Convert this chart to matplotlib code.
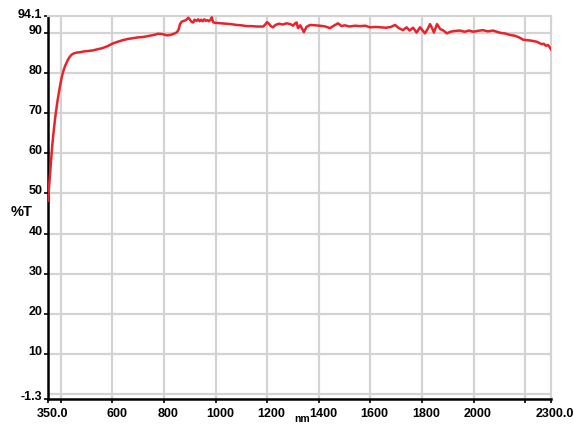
import matplotlib
matplotlib.use('Agg')
import matplotlib.pyplot as plt
from matplotlib.transforms import ScaledTranslation

# wavelength (nm) and transmission (%T)
wavelength = [350, 354, 358, 362, 366, 370, 374, 378, 382, 386, 390, 395, 400, 405,
              410, 416, 422, 428, 435, 442, 450, 461, 475, 490, 505, 520, 540, 560,
              577, 590, 602, 620, 640, 660, 680, 700, 720, 745, 760, 777, 795, 810,
              825, 842, 850, 856, 862, 868, 876, 885, 894, 900, 906, 913, 918, 926,
              932, 938, 944, 950, 956, 962, 968, 974, 980, 985, 990, 997, 1004, 1020,
              1040, 1060, 1080, 1100, 1120, 1140, 1160, 1184, 1192, 1199, 1206, 1214,
              1222, 1232, 1245, 1260, 1275, 1290, 1300, 1308, 1314, 1319, 1328, 1342,
              1352, 1366, 1385, 1405, 1425, 1443, 1458, 1474, 1488, 1500, 1520, 1540,
              1560, 1580, 1598, 1620, 1640, 1660, 1680, 1695, 1710, 1726, 1740, 1752,
              1765, 1779, 1792, 1800, 1811, 1822, 1831, 1838, 1846, 1858, 1870, 1883,
              1896, 1910, 1928, 1947, 1965, 1982, 1998, 2015, 2035, 2055, 2075, 2090,
              2105, 2120, 2141, 2160, 2176, 2192, 2210, 2230, 2245, 2255, 2264, 2272,
              2280, 2288, 2294, 2300]
transmission = [48.2, 51.5, 55.0, 58.4, 61.5, 64.3, 66.6, 68.9, 70.9, 72.7, 74.3, 76.2, 77.9, 79.4,
                80.6, 81.7, 82.6, 83.4, 84.1, 84.6, 84.9, 85.1, 85.2, 85.4, 85.5, 85.6, 85.9, 86.2,
                86.6, 87.0, 87.4, 87.8, 88.2, 88.5, 88.7, 88.9, 89.0, 89.3, 89.5, 89.8, 89.7, 89.4,
                89.5, 89.9, 90.2, 90.8, 92.2, 92.8, 93.0, 93.2, 93.8, 93.3, 92.8, 92.6, 93.3, 93.0,
                93.4, 92.9, 93.3, 92.9, 93.4, 93.0, 93.2, 92.9, 93.3, 93.9, 92.7, 92.5, 92.5, 92.4,
                92.3, 92.2, 92.0, 91.9, 91.7, 91.7, 91.6, 91.6, 92.1, 92.7, 92.3, 91.7,
                91.4, 92.0, 92.3, 92.1, 92.4, 92.2, 91.8, 92.4, 92.6, 91.2, 91.9, 90.2,
                91.5, 92.0, 91.9, 91.8, 91.6, 91.2, 91.8, 92.4, 91.7, 91.9, 91.6, 91.8,
                91.7, 91.8, 91.4, 91.5, 91.4, 91.3, 91.5, 92.0, 91.2, 90.7, 91.4, 90.6,
                91.3, 90.1, 91.4, 90.8, 89.9, 91.0, 92.2, 91.3, 90.1, 92.2, 91.0, 90.6,
                89.9, 90.3, 90.5, 90.6, 90.3, 90.6, 90.3, 90.5, 90.7, 90.4, 90.6, 90.3,
                90.0, 89.9, 89.5, 89.3, 88.9, 88.3, 88.2, 88.0, 87.8, 87.5, 87.2, 87.3,
                86.8, 87.0, 86.5, 85.9]

x_ticks = [350, 400, 600, 800, 1000, 1200, 1400, 1600, 1800, 2000, 2200, 2300]
x_labels = ['350.0', '', '600', '800', '1000', '1200', '1400', '1600', '1800', '2000', '', '2300.0']
y_ticks = [-1.3, 10, 20, 30, 40, 50, 60, 70, 80, 90, 94.1]
y_labels = ['-1.3', '10', '20', '30', '40', '50', '60', '70', '80', '90', '94.1']
y_grid = [0, 10, 20, 30, 40, 50, 60, 70, 80, 90]

plt.rcParams['font.family'] = ['Liberation Sans', 'DejaVu Sans']
fig = plt.figure(figsize=(5.74, 4.25), dpi=100)
ax = fig.add_axes([0.0836, 0.0605, 0.8764, 0.9007])

grid_col = '#d3d3d3'
ax.plot(wavelength, transmission, color='#e8232b', lw=1.8, zorder=3)
ax.set_xlim(350, 2300)
ax.set_ylim(-1.3, 94.1)

ax.set_xticks(x_ticks)
ax.set_xticklabels(x_labels, fontsize=9, fontweight='bold')
ax.set_yticks(y_ticks)
ax.set_yticklabels(y_labels, fontsize=9, fontweight='bold')
ax.tick_params(axis='both', which='major', length=3, width=1.2, color='black', pad=1)
ax.tick_params(axis='x', which='major', pad=3)

for xv in x_ticks[1:-1]:
    ax.axvline(xv, color=grid_col, lw=1.6, zorder=1)
for yv in y_grid:
    ax.axhline(yv, color=grid_col, lw=1.6, zorder=1)

ax.spines['left'].set_color('black')
ax.spines['left'].set_linewidth(1.8)
ax.spines['bottom'].set_color('black')
ax.spines['bottom'].set_linewidth(1.8)
ax.spines['top'].set_color(grid_col)
ax.spines['top'].set_linewidth(1.6)
ax.spines['right'].set_color(grid_col)
ax.spines['right'].set_linewidth(1.6)

# labels sit a little above their ticks in the original
shift = ScaledTranslation(0, 2.5 / 72, fig.dpi_scale_trans)
for lab in ax.get_yticklabels():
    lab.set_transform(lab.get_transform() + shift)
xshift = ScaledTranslation(3 / 72, 0, fig.dpi_scale_trans)
for lab in ax.get_xticklabels():
    lab.set_transform(lab.get_transform() + xshift)

ax.set_ylabel('%T', fontsize=10.5, fontweight='bold', rotation=0, va='center', ha='center')
ax.yaxis.set_label_coords(-0.052, 0.489)
ax.set_xlabel('nm', fontsize=7.5, fontweight='bold', va='center')
ax.xaxis.set_label_coords(0.505, -0.051)

fig.savefig('out.png', dpi=100)
